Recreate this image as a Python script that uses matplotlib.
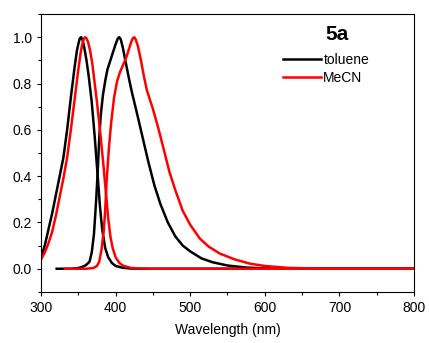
import matplotlib
matplotlib.use("Agg")
import matplotlib.pyplot as plt
from matplotlib.ticker import MultipleLocator

plt.rcParams['font.family'] = ['Liberation Sans', 'DejaVu Sans']

# toluene (black) absorption
tol_abs_x = [300, 305, 310, 315, 320, 325, 330, 335, 340, 345, 348, 350, 352, 354, 356,
             358, 361, 364, 368, 372, 376, 379, 382, 386, 390, 395, 400, 410, 420, 430, 800]
tol_abs_y = [0.05, 0.1, 0.17, 0.24, 0.32, 0.4, 0.48, 0.6, 0.74, 0.87, 0.94, 0.97, 0.995,
             1.0, 0.985, 0.955, 0.9, 0.83, 0.72, 0.57, 0.4, 0.27, 0.17, 0.09, 0.05,
             0.025, 0.012, 0.004, 0.001, 0.0, 0.0]

# toluene (black) emission
tol_em_x = [321, 340, 350, 355, 360, 365, 368, 371, 374, 376, 378, 380, 383, 386, 389,
            393, 397, 400, 403, 405, 407, 410, 413, 418, 422, 428, 436, 444, 452, 460,
            470, 480, 490, 500, 515, 530, 550, 575, 600, 650, 800]
tol_em_y = [0.0, 0.0, 0.003, 0.008, 0.015, 0.03, 0.07, 0.15, 0.3, 0.42, 0.56, 0.66, 0.75,
            0.81, 0.86, 0.9, 0.94, 0.97, 0.995, 1.0, 0.99, 0.95, 0.9, 0.82, 0.76, 0.68,
            0.57, 0.46, 0.36, 0.28, 0.2, 0.14, 0.1, 0.075, 0.045, 0.028, 0.014, 0.005,
            0.002, 0.0, 0.0]

# MeCN (red) absorption
mecn_abs_x = [300, 305, 310, 315, 320, 325, 330, 335, 340, 345, 350, 353, 355, 357, 359,
              361, 363, 366, 369, 372, 375, 379, 383, 387, 390, 393, 396, 400, 405, 410,
              420, 430, 450, 800]
mecn_abs_y = [0.04, 0.07, 0.11, 0.16, 0.23, 0.31, 0.39, 0.48, 0.6, 0.73, 0.86, 0.93, 0.965,
              0.99, 1.0, 0.995, 0.98, 0.94, 0.88, 0.8, 0.72, 0.6, 0.47, 0.33, 0.22, 0.14,
              0.09, 0.05, 0.025, 0.013, 0.004, 0.001, 0.0, 0.0]

# MeCN (red) emission
mecn_em_x = [332, 360, 370, 375, 378, 381, 384, 386, 388, 391, 394, 398, 402, 406, 410,
             414, 418, 421, 423, 425, 427, 430, 434, 438, 442, 446, 450, 457, 465, 472,
             480, 490, 500, 513, 525, 540, 560, 580, 600, 630, 680, 800]
mecn_em_y = [0.0, 0.0, 0.003, 0.012, 0.03, 0.08, 0.16, 0.25, 0.38, 0.52, 0.63, 0.74, 0.81,
             0.85, 0.88, 0.91, 0.95, 0.98, 0.995, 1.0, 0.99, 0.96, 0.9, 0.83, 0.77, 0.73,
             0.69, 0.61, 0.51, 0.42, 0.34, 0.25, 0.19, 0.13, 0.095, 0.065, 0.04, 0.022,
             0.012, 0.004, 0.0, 0.0]

fig = plt.figure(figsize=(4.29, 3.43), dpi=100)
ax = fig.add_axes([0.0956, 0.149, 0.8694, 0.810])

ax.plot(tol_abs_x, tol_abs_y, color='black', lw=1.8, label='toluene')
ax.plot(tol_em_x, tol_em_y, color='black', lw=1.8)
ax.plot(mecn_abs_x, mecn_abs_y, color='red', lw=1.8, label='MeCN')
ax.plot(mecn_em_x, mecn_em_y, color='red', lw=1.8)

ax.set_xlim(300, 800)
ax.set_ylim(-0.1, 1.1)
ax.xaxis.set_major_locator(MultipleLocator(100))
ax.xaxis.set_minor_locator(MultipleLocator(50))
ax.yaxis.set_major_locator(MultipleLocator(0.2))
ax.yaxis.set_minor_locator(MultipleLocator(0.1))
ax.yaxis.set_major_formatter(plt.FormatStrFormatter('%.1f'))
ax.tick_params(which='major', direction='out', length=3, width=0.8, labelsize=10)
ax.tick_params(which='minor', direction='out', length=2.5, width=0.8)
ax.set_xlabel('Wavelength (nm)', fontsize=10, labelpad=6)

ax.text(0.793, 0.928, '5a', transform=ax.transAxes, fontsize=15, fontweight='bold',
        ha='center', va='center')
ax.legend(loc='upper left', bbox_to_anchor=(0.649, 0.86), frameon=False,
          fontsize=10, handlelength=2.7, handletextpad=0.2, labelspacing=0.3,
          borderaxespad=0, borderpad=0)

fig.savefig('out.png', dpi=100)
